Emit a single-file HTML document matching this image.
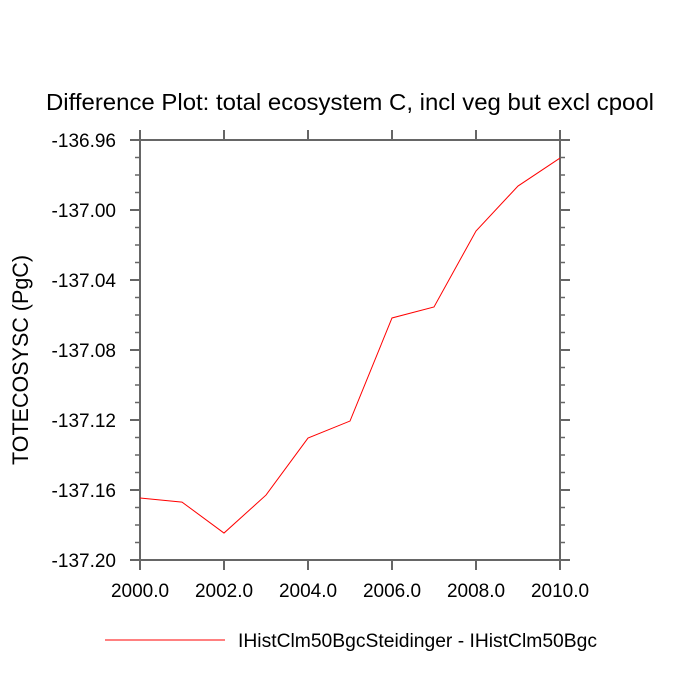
<!DOCTYPE html>
<html><head><meta charset="utf-8"><style>
html,body{margin:0;padding:0;background:#fff;}
svg{display:block;font-family:"Liberation Sans",sans-serif;}
</style></head><body>
<svg id="chart" width="700" height="700"></svg>
<script>
const years=[2000,2001,2002,2003,2004,2005,2006,2007,2008,2009,2010];
const values=[-137.1646,-137.1669,-137.1846,-137.1629,-137.1303,-137.1206,-137.0617,-137.0554,-137.012,-136.9863,-136.9703];
const yTickLabels=["-136.96","-137.00","-137.04","-137.08","-137.12","-137.16","-137.20"];
const xTickLabels=["2000.0","2002.0","2004.0","2006.0","2008.0","2010.0"];
const NS="http://www.w3.org/2000/svg";
const svg=document.getElementById('chart');
const L=140,R=560,T=140,B=560;
const xMin=2000,xMax=2010,yMax=-136.96,yMin=-137.20;
function xs(v){return L+(v-xMin)/(xMax-xMin)*(R-L);}
function ys(v){return T+(yMax-v)/(yMax-yMin)*(B-T);}
function mk(tag,attrs,text){const e=document.createElementNS(NS,tag);for(const k in attrs)e.setAttribute(k,attrs[k]);if(text!==undefined)e.textContent=text;svg.appendChild(e);return e;}
let t=mk('text',{x:350,y:110,'text-anchor':'middle','font-size':23,textLength:608,lengthAdjust:'spacingAndGlyphs',fill:'#000'},'Difference Plot: total ecosystem C, incl veg but excl cpool');


let f=mk('rect',{x:L,y:T,width:R-L,height:B-T,fill:'none',stroke:'#666',"stroke-width":2});


for(let i=0;i<=24;i++){
  const v=yMax-i*0.01;const y=ys(v);const major=i%4===0;const len=major?10:5;
  let a=mk('line',{x1:L-len,x2:L,y1:y,y2:y,stroke:'#666','stroke-width':major?2:1.5});
  
  
  let b=mk('line',{x1:R,x2:R+len,y1:y,y2:y,stroke:'#666','stroke-width':major?2:1.5});
  
  
}
yTickLabels.forEach(s=>{
  const y=ys(parseFloat(s));
  let e=mk('text',{x:L-24,y:y+7,'text-anchor':'end','font-size':19,fill:'#000'},s);
  
  
});
xTickLabels.forEach(s=>{
  const x=xs(parseFloat(s));
  let a=mk('line',{x1:x,x2:x,y1:B,y2:B+10,stroke:'#666','stroke-width':2});
  
  
  let b=mk('line',{x1:x,x2:x,y1:T-10,y2:T,stroke:'#666','stroke-width':2});
  
  
  let e=mk('text',{x:x,y:B+37,'text-anchor':'middle','font-size':19,fill:'#000'},s);
  
  
});
let yt=mk('text',{x:0,y:0,transform:'translate(28,360) rotate(-90)','text-anchor':'middle','font-size':22,textLength:210,lengthAdjust:'spacingAndGlyphs',fill:'#000'},'TOTECOSYSC  (PgC)');


let p=mk('polyline',{points:years.map((y,i)=>xs(y)+','+ys(values[i])).join(' '),fill:'none',stroke:'#ff0000','stroke-width':1});


let ll=mk('line',{x1:105,x2:225,y1:640,y2:640,stroke:'#ff0000','stroke-width':1});


let lt=mk('text',{x:238,y:647,'font-size':19,textLength:359,lengthAdjust:'spacingAndGlyphs',fill:'#000'},'IHistClm50BgcSteidinger - IHistClm50Bgc');


</script>
</body></html>
